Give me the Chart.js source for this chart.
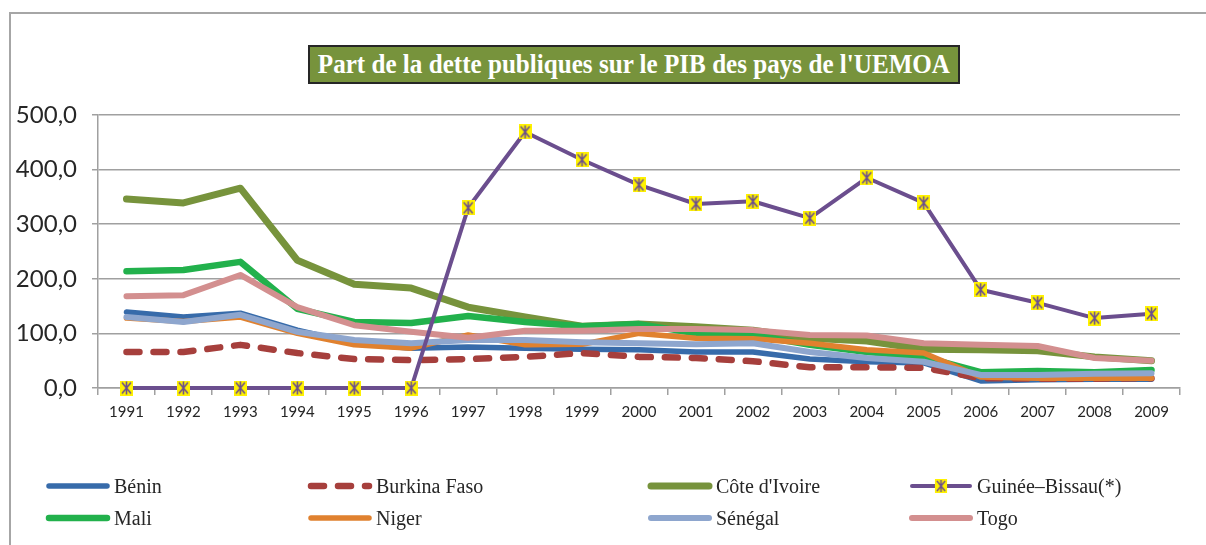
<!DOCTYPE html>
<html>
<head>
<meta charset="utf-8">
<script src="https://cdn.jsdelivr.net/npm/chart.js@4"></script>
<style>
    html, body { margin: 0; background: #fff; overflow: hidden; }
    #page { position: relative; width: 1206px; height: 545px; overflow: hidden; }
    .frameLine { position: absolute; background: #a6a6a6; }
    #chartBox { position: absolute; left: 0; top: 0; width: 1206px; height: 545px; }
    #title { position: absolute; left: 308px; top: 45px; width: 648px; height: 35px;
             background: #77933C; border: 2px solid #262626; overflow: hidden;
             display: flex; justify-content: center; align-items: center; }
    #title span { flex: none; color: #fff; white-space: nowrap;
                  font-family: "Liberation Serif", serif; font-weight: bold; font-size: 27px;
                  line-height: 35px; transform: scaleX(0.93); transform-origin: center; }
    .legendItem { position: absolute; height: 22px; display: flex; align-items: center;
                  font-family: "Liberation Serif", serif; font-size: 20px; color: #262626; white-space: nowrap; }
    .legendItem svg { margin-right: 3px; }
</style>
</head>
<body>
<div id="page">
    <div class="frameLine" style="left:9px; top:12px; width:1197px; height:2px;"></div>
    <div class="frameLine" style="left:9px; top:12px; width:2px; height:533px;"></div>
    <div id="chartBox"><canvas id="debtChart"></canvas></div>
    <div id="title"><span>Part de la dette publiques sur le PIB des pays de l'UEMOA</span></div>
    <div id="legend"></div>
</div>
<script>
const years = ['1991', '1992', '1993', '1994', '1995', '1996', '1997', '1998', '1999', '2000',
               '2001', '2002', '2003', '2004', '2005', '2006', '2007', '2008', '2009'];
const yTickLabels = ['0,0', '100,0', '200,0', '300,0', '400,0', '500,0'];

const benin        = [139, 130, 137, 106, 82, 73, 75, 73, 71, 70, 66, 66, 53, 48, 46, 13, 15, 16, 16];
const burkinaFaso  = [66, 66, 79, 64, 53, 51, 53, 57, 64, 57, 55, 49, 38, 38, 37, 18, 17, 17, 18];
const coteIvoire   = [346, 339, 366, 234, 190, 183, 148, 130, 113, 117, 112, 106, 91, 86, 71, 70, 68, 57, 50];
const guineeBissau = [0, 0, 0, 0, 0, 0, 330, 469, 418, 372, 337, 342, 311, 385, 339, 180, 156, 128, 136];
const mali         = [214, 216, 231, 145, 121, 119, 132, 121, 113, 117, 100, 97, 79, 66, 57, 29, 31, 29, 33];
const niger        = [128, 122, 130, 100, 79, 73, 97, 79, 80, 100, 91, 90, 82, 70, 64, 20, 18, 18, 18];
const senegal      = [130, 121, 134, 103, 88, 82, 88, 88, 84, 82, 80, 82, 66, 55, 48, 24, 24, 26, 27];
const togo         = [168, 170, 207, 148, 115, 103, 92, 105, 105, 108, 108, 106, 97, 96, 82, 79, 77, 55, 50];

// yellow square with a purple star, like the Excel marker
function makeMarker() {
    const c = document.createElement('canvas');
    c.width = 13;
    c.height = 15;
    const g = c.getContext('2d');
    g.fillStyle = '#FFF200';
    g.fillRect(0, 0, 13, 15);
    g.strokeStyle = '#6B4E8E';
    g.lineWidth = 1.6;
    g.beginPath();
    g.moveTo(6.5, 1); g.lineTo(6.5, 14);
    g.moveTo(2, 2); g.lineTo(11, 13);
    g.moveTo(11, 2); g.lineTo(2, 13);
    g.stroke();
    return c;
}
const marker = makeMarker();

const series = [
    { label: 'Bénin', data: benin, color: '#376BAA', width: 5.5 },
    { label: 'Burkina Faso', data: burkinaFaso, color: '#A63F3C', width: 6.5, dash: [13, 14] },
    { label: "Côte d'Ivoire", data: coteIvoire, color: '#77933C', width: 7 },
    { label: 'Guinée–Bissau(*)', data: guineeBissau, color: '#6B4E8E', width: 4, marker: true },
    { label: 'Mali', data: mali, color: '#22B14C', width: 6.5 },
    { label: 'Niger', data: niger, color: '#E0812F', width: 5.5 },
    { label: 'Sénégal', data: senegal, color: '#8EA6CE', width: 6 },
    { label: 'Togo', data: togo, color: '#D38F8F', width: 6 }
];

const datasets = series.map((s, i) => ({
    label: s.label,
    data: s.data,
    borderColor: s.color,
    backgroundColor: s.color,
    borderWidth: s.width,
    borderDash: s.dash || [],
    borderCapStyle: 'round',
    borderJoinStyle: 'round',
    tension: 0,
    fill: false,
    clip: false,
    pointRadius: s.marker ? 7 : 0,
    pointStyle: s.marker ? marker : 'circle',
    order: s.marker ? -1 : 7 - i
}));

const ctx = document.getElementById('debtChart').getContext('2d');
const chart = new Chart(ctx, {
    type: 'line',
    data: { labels: years, datasets: datasets },
    options: {
        responsive: true,
        maintainAspectRatio: false,
        animation: false,
        layout: { padding: { left: 0, top: 115, right: 26, bottom: 117 } },
        plugins: {
            legend: { display: false },
            tooltip: { enabled: false }
        },
        scales: {
            x: {
                offset: true,
                afterFit: (scale) => { scale.height = 40; },
                grid: { offset: true, drawOnChartArea: false, drawTicks: true, tickLength: 7,
                        color: '#a0a0a0', lineWidth: 1.5 },
                border: { color: '#a0a0a0', width: 1.5 },
                ticks: { color: '#262626', padding: 8, maxRotation: 0,
                         font: { family: 'Lato', size: 15 } }
            },
            y: {
                min: 0,
                max: 500,
                afterFit: (scale) => { scale.width = 98; },
                grid: { color: '#a0a0a0', lineWidth: 1.5, tickLength: 6 },
                border: { color: '#a0a0a0', width: 1.5 },
                ticks: {
                    stepSize: 100,
                    color: '#262626',
                    padding: 15,
                    font: { family: 'Lato', size: 24 },
                    callback: (v) => yTickLabels[v / 100]
                }
            }
        }
    }
});

// legend laid out in 4 columns, as in the original
const legendCols = [45, 307, 647, 908];
const legendRows = [475, 507];
const legend = document.getElementById('legend');
series.forEach((s, i) => {
    const item = document.createElement('div');
    item.className = 'legendItem';
    item.style.left = legendCols[i % 4] + 'px';
    item.style.top = legendRows[Math.floor(i / 4)] + 'px';
    let svg = `<svg width="66" height="14"><line x1="4" y1="7" x2="62" y2="7" stroke="${s.color}" stroke-width="${s.width}" stroke-linecap="round"`;
    if (s.dash) svg += ` stroke-dasharray="${s.dash.join(' ')}"`;
    svg += '/>';
    if (s.marker) svg += '<image href="' + marker.toDataURL() + '" x="26.5" y="0" width="13" height="14"/>';
    svg += '</svg>';
    item.innerHTML = svg + '<span>' + s.label + '</span>';
    legend.appendChild(item);
});
</script>
</body>
</html>
